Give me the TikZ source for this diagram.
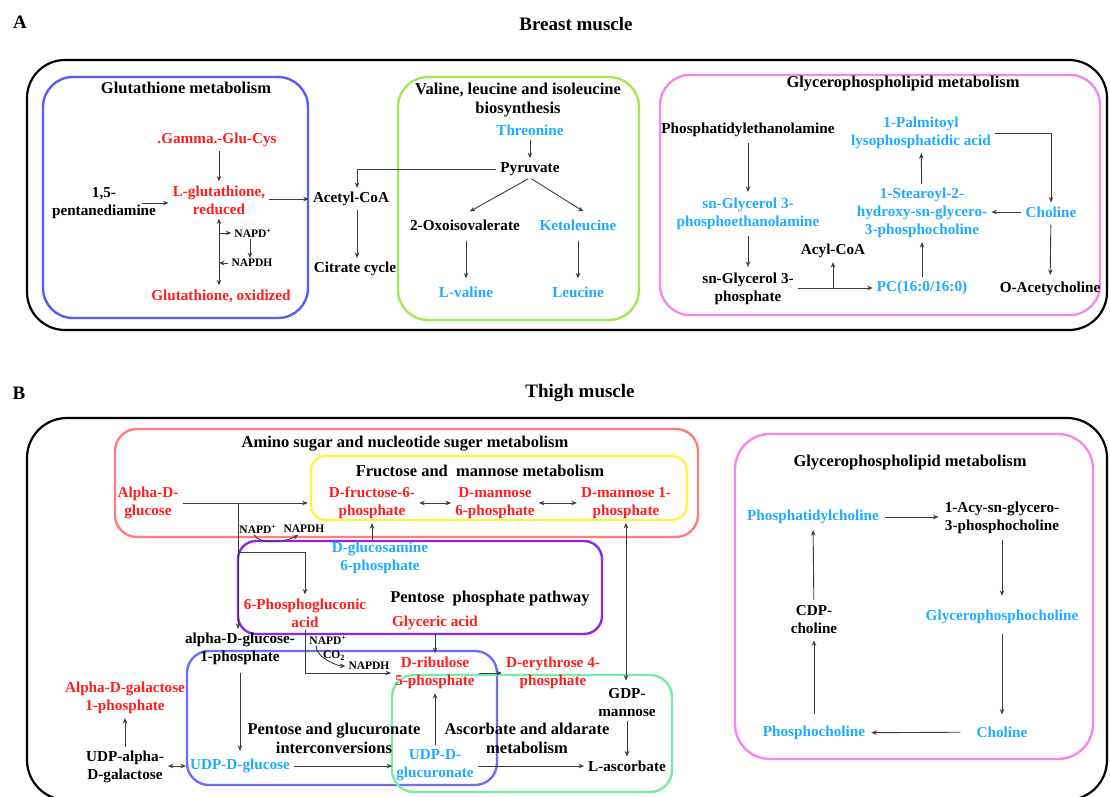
\documentclass[tikz,border=0pt]{standalone}
\usepackage{fontspec}
\setmainfont{Liberation Serif}
\usetikzlibrary{arrows.meta, positioning}

\definecolor{upred}{RGB}{255,30,30}
\definecolor{downblue}{RGB}{30,172,255}
\definecolor{gshbox}{RGB}{92,92,245}
\definecolor{valbox}{RGB}{165,232,85}
\definecolor{gplbox}{RGB}{246,135,238}
\definecolor{aminobox}{RGB}{255,125,125}
\definecolor{frubox}{RGB}{255,245,70}
\definecolor{pppbox}{RGB}{140,40,235}
\definecolor{glcabox}{RGB}{110,110,245}
\definecolor{ascbox}{RGB}{120,235,170}
\definecolor{arrgray}{RGB}{60,60,60}

\tikzset{
  met/.style={font=\bfseries\fontsize{15.2}{18}\selectfont, align=center, inner sep=2pt},
  upmet/.style={met, text=upred},
  downmet/.style={met, text=downblue},
  ttl/.style={font=\bfseries\fontsize{16.5}{19}\selectfont, align=center, inner sep=1pt},
  sect/.style={font=\bfseries\fontsize{19}{22}\selectfont},
  cof/.style={font=\bfseries\fontsize{11.5}{13}\selectfont, inner sep=1pt},
  arr/.style={-{Stealth[length=5.5pt,width=4.5pt]}, draw=arrgray, line width=0.9pt, shorten >=2pt, shorten <=2pt},
  darr/.style={{Stealth[length=5.5pt,width=4.5pt]}-{Stealth[length=5.5pt,width=4.5pt]}, draw=arrgray, line width=0.9pt, shorten >=2pt, shorten <=2pt},
  pathbox/.style={line width=2.4pt, rounded corners=#1},
  pathbox/.default=30pt
}

\begin{document}
\begin{tikzpicture}[x=1pt, y=-1pt]
        % page
        \fill[white] (0,0) rectangle (1110,797);
        \clip (0,0) rectangle (1110,797);

        % ---------- A: breast muscle ----------
        \node[sect] (labA) at (20,22) {A};
        \node[sect] (titA) at (576,24) {Breast muscle};
        \draw[line width=2.2pt, rounded corners=38pt] (27,60) rectangle (1107,330);

        % glutathione metabolism
        \draw[pathbox, draw=gshbox] (43,77) rectangle (308,318);
        \node[ttl] (tgsh) at (186,88) {Glutathione metabolism};
        \node[upmet] (gcys) at (217,140) {.Gamma.-Glu-Cys};
        \node[upmet] (lgsh) at (219,200) {L-glutathione,\\reduced};
        \node[met] (pda) at (104,203) {1,5-\\pentanediamine};
        \node[upmet] (gssg) at (221,296) {Glutathione, oxidized};
        \node[cof] (nadp1) at (253,233) {NAPD\textsuperscript{+}};
        \node[cof] (nadph1) at (252,263) {NAPDH};
        \draw[arr] (gcys.south -| lgsh) -- (lgsh.north);
        \draw[arr] ([xshift=-18pt]pda.east) -- (pda.east -| lgsh.west);
        \draw[darr] (lgsh.south) -- (lgsh.south |- gssg.north);
        \draw[arr, shorten <=0pt] (lgsh.south |- nadp1) -- (nadp1.west);
        \draw[arr, shorten >=0pt] (nadph1.west) -- (lgsh.south |- nadph1);
        \draw[arr, shorten <=0pt, shorten >=0pt] ([xshift=-3pt]nadp1.south) -- ([xshift=-2pt]nadph1.north);

        % acetyl-CoA and citrate cycle
        \node[met] (acoa) at (351,199) {Acetyl-CoA};
        \node[met] (tca) at (355,269) {Citrate cycle};
        \draw[arr] (lgsh.east |- acoa) -- (acoa.west);
        \draw[arr] ([xshift=6pt]acoa.south) -- ([xshift=6pt]acoa.south |- tca.north);

        % valine, leucine and isoleucine biosynthesis
        \draw[pathbox, draw=valbox] (398,77) rectangle (639,320);
        \node[ttl] (tval) at (518,100) {Valine, leucine and isoleucine\\biosynthesis};
        \node[downmet] (thr) at (530,130) {Threonine};
        \node[met] (pyr) at (530,169) {Pyruvate};
        \node[met] (oiv) at (465,225) {2-Oxoisovalerate};
        \node[downmet] (kleu) at (578,225) {Ketoleucine};
        \node[downmet] (val) at (466,292) {L-valine};
        \node[downmet] (leu) at (578,292) {Leucine};
        \draw[arr] (thr) -- (pyr);
        \draw[arr] (pyr.west) -| ([xshift=6pt]acoa.north);
        \draw[arr] (pyr.south) -- ([xshift=3pt,yshift=5pt]oiv.north);
        \draw[arr] (pyr.south) -- ([xshift=7pt,yshift=5pt]kleu.north);
        \draw[arr, shorten <=8pt, shorten >=6pt] (oiv.south -| val) -- (val.north);
        \draw[arr, shorten <=8pt, shorten >=6pt] (kleu) -- (leu);

        % glycerophospholipid metabolism (A)
        \draw[pathbox, draw=gplbox] (660,75) rectangle (1100,315);
        \node[ttl] (tgpla) at (903,84) {Glycerophospholipid metabolism};
        \node[met] (pe) at (748,130) {Phosphatidylethanolamine};
        \node[downmet] (g3pe) at (748,214) {sn-Glycerol 3-\\phosphoethanolamine};
        \node[met] (g3p) at (748,289) {sn-Glycerol 3-\\phosphate};
        \node[met] (acyl) at (833,251) {Acyl-CoA};
        \node[downmet] (pc) at (922,288) {PC(16:0/16:0)};
        \node[downmet] (lpc) at (922,213) {1-Stearoyl-2-\\hydroxy-sn-glycero-\\3-phosphocholine};
        \node[downmet] (lpa) at (921,133) {1-Palmitoyl\\lysophosphatidic acid};
        \node[downmet] (cho1) at (1051,212) {Choline};
        \node[met] (ach) at (1050,289) {O-Acetycholine};
        \draw[arr, shorten <=4pt, shorten >=4pt] (pe) -- (g3pe);
        \draw[arr, shorten <=4pt, shorten >=4pt] (g3pe) -- (g3p);
        \draw[arr] (g3p.east |- pc) -- (pc.west);
        \draw[arr, shorten <=0pt] (acyl.south |- pc) -- (acyl.south);
        \draw[arr] (pc) -- (lpc);
        \draw[arr] (lpc) -- (lpa);
        \draw[arr] (lpa.east) -| (cho1.north);
        \draw[arr] (cho1.west) -- (lpc.east |- cho1);
        \draw[arr, shorten <=5pt, shorten >=5pt] (cho1) -- (ach);

        % ---------- B: thigh muscle ----------
        \node[sect] (labB) at (19,393) {B};
        \node[sect] (titB) at (580,393) {Thigh muscle};
        \draw[line width=2.2pt, rounded corners=40pt] (27,418) rectangle (1107,800);

        % pathway boxes
        \draw[pathbox=22pt, draw=aminobox] (115,429) rectangle (698,537);
        \draw[pathbox=15pt, draw=frubox] (311,456) rectangle (687,520);
        \draw[pathbox=18pt, draw=pppbox] (238,541) rectangle (602,634);
        \draw[pathbox=22pt, draw=glcabox] (187,651) rectangle (497,785);
        \draw[pathbox=22pt, draw=ascbox] (392,675) rectangle (672,792);
        \draw[pathbox=35pt, draw=gplbox] (735,434) rectangle (1093,759);
        \node[ttl] (tamino) at (405,444) {Amino sugar and nucleotide suger metabolism};
        \node[ttl] (tfru) at (480,471) {Fructose and\ \ mannose metabolism};
        \node[ttl] (tppp) at (490,599) {Pentose\ \ phosphate pathway};
        \node[ttl] (tglca) at (334,738) {Pentose and glucuronate\\interconversions};
        \node[ttl] (tasc) at (527,738) {Ascorbate and aldarate\\metabolism};
        \node[ttl] (tgplb) at (910,463) {Glycerophospholipid metabolism};

        % sugars
        \node[upmet] (aglc) at (148,503) {Alpha-D-\\glucose};
        \node[upmet] (f6p) at (372,503) {D-fructose-6-\\phosphate};
        \node[upmet] (m6p) at (495,503) {D-mannose\\6-phosphate};
        \node[upmet] (m1p) at (626,503) {D-mannose 1-\\phosphate};
        \node[downmet] (gln6p) at (380,558) {D-glucosamine\\6-phosphate};
        \node[upmet] (pga) at (305,613) {6-Phosphogluconic\\acid};
        \node[upmet] (gly) at (435,623) {Glyceric acid};
        \node[met] (g1p) at (240,649) {alpha-D-glucose-\\1-phosphate};
        \node[upmet] (ru5p) at (435,673) {D-ribulose\\5-phosphate};
        \node[upmet] (e4p) at (553,673) {D-erythrose 4-\\phosphate};
        \node[met] (gdpm) at (627,703) {GDP-\\mannose};
        \node[met] (asc) at (627,766) {L-ascorbate};
        \node[downmet] (udpga) at (435,765) {UDP-D-\\glucuronate};
        \node[downmet] (udpg) at (240,766) {UDP-D-glucose};
        \node[met] (udpgal) at (125,767) {UDP-alpha-\\D-galactose};
        \node[upmet] (gal1p) at (125,698) {Alpha-D-galactose\\1-phosphate};
        \node[cof] (nadp2) at (258,529) {NAPD\textsuperscript{+}};
        \node[cof] (nadph2) at (304,529) {NAPDH};
        \node[cof] (nadp3) at (328,640) {NAPD\textsuperscript{+}};
        \node[cof] (co2) at (334,656) {CO\textsubscript{2}};
        \node[cof] (nadph3) at (369,666) {NAPDH};
        \coordinate (jn1) at (238,503);
        \coordinate (jn2) at (238,552);

        \draw[arr] (aglc.east) -- ([xshift=-17pt]f6p.west);
        \draw[arr, shorten <=0pt] (jn1) -- (jn1 |- g1p.north);
        \draw[arr, shorten <=0pt] (jn2) -| (pga.north);
        \draw[arr, shorten <=0pt] ([xshift=-4pt]nadp2.south) .. controls +(6,11) and +(-14,8) .. ([xshift=-4pt]nadph2.south);
        \draw[arr, shorten <=0pt] (f6p |- gln6p.north) -- (f6p.south);
        \draw[darr] (f6p.east) -- (m6p.west);
        \draw[darr] (m6p.east) -- (m1p.west);
        \draw[darr, shorten >=6pt] (m1p.south) -- (m1p.south |- gdpm.north);
        \draw[arr, shorten <=0pt] (pga.south) |- (ru5p.west);
        \draw[arr, shorten <=0pt] ([xshift=-12pt]nadp3.south) .. controls +(0,12) and +(-10,0) .. (nadph3.west);
        \draw[arr] (gly) -- (ru5p);
        \draw[arr] (ru5p.east) -- (e4p.west);
        \draw[arr, shorten <=6pt, shorten >=6pt] (g1p) -- (udpg);
        \draw[darr] (udpgal.east |- udpg) -- (udpg.west);
        \draw[arr] (udpgal) -- (gal1p);
        \draw[arr] (udpg.east) -- (udpga.west |- udpg);
        \draw[arr] (udpga) -- (ru5p);
        \draw[arr] (udpga.east |- asc) -- (asc.west);
        \draw[arr] (gdpm) -- (asc);

        % glycerophospholipid metabolism (B)
        \node[downmet] (ptc) at (813,517) {Phosphatidylcholine};
        \node[met] (lpcb) at (1002,518) {1-Acy-sn-glycero-\\3-phosphocholine};
        \node[downmet] (gpc) at (1002,617) {Glycerophosphocholine};
        \node[downmet] (cho2) at (1002,732) {Choline};
        \node[downmet] (pcho) at (814,733) {Phosphocholine};
        \node[met] (cdp) at (814,620) {CDP-\\choline};
        \draw[arr, shorten <=4pt, shorten >=4pt] (ptc) -- (lpcb.west |- ptc);
        \draw[arr, shorten <=4pt, shorten >=12pt] (lpcb) -- (gpc);
        \draw[arr, shorten <=8pt, shorten >=10pt] (gpc) -- (cho2);
        \draw[arr, shorten <=14pt, shorten >=4pt] (cho2) -- (pcho);
        \draw[arr, shorten <=10pt, shorten >=4pt] (pcho) -- (cdp);
        \draw[arr, shorten <=4pt, shorten >=4pt] (cdp) -- (ptc);
\end{tikzpicture}
\end{document}
